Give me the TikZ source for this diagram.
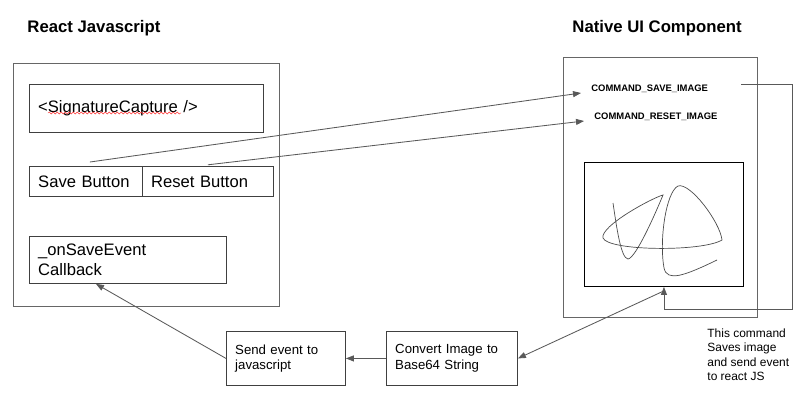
\documentclass[tikz,border=0pt]{standalone}
\usepackage{fontspec}
\setmainfont{Liberation Sans}
\usetikzlibrary{arrows.meta,positioning,calc,decorations.pathmorphing}

\begin{document}
\begin{tikzpicture}[x=0.025cm, y=-0.025cm, line width=0.6pt,
  arr/.style={draw=black!65, -{Triangle[length=2mm,width=1.5mm]}},
  frame/.style={draw=black!60, rectangle, anchor=north west, inner sep=0pt},
  box/.style={draw=black!75, rectangle, anchor=north west, inner xsep=2.2mm, inner ysep=0pt,
    align=left, font=\fontsize{11.8}{14}\selectfont},
  smallbox/.style={box, font=\fontsize{9.4}{11}\selectfont},
  title/.style={anchor=west, inner sep=0pt, font=\fontsize{11.9}{14}\selectfont\bfseries},
  cmd/.style={anchor=west, inner sep=2.5mm, font=\fontsize{6.7}{8}\selectfont\bfseries}]
  \useasboundingbox (0,0) rectangle (800,402);
  % titles
  \node[title] (tjs) at (27,28) {React Javascript};
  \node[title] (tnat) at (572,28) {Native UI Component};
  % react side
  \node[frame, minimum width=66.5mm, minimum height=60.75mm] (rj) at (13,63) {};
  \node[box, text width=54.1mm, minimum height=12mm] (sig) at (29,84) {<SignatureCapture />};
  \draw[red!80, line width=0.3pt, decoration={snake, amplitude=0.25mm, segment length=1mm}, decorate]
    (48,113) -- (181,113);
  \node[box, text width=23.85mm, minimum height=7.5mm] (save) at (29,166) {Save Button};
  \node[box, text width=28.35mm, minimum height=7.5mm] (reset) at (142,166) {Reset Button};
  \node[box, text width=44.85mm, minimum height=11.75mm] (cb) at (29,236) {\_onSaveEvent\\Callback};
  % native side
  \node[frame, minimum width=48.5mm, minimum height=65mm] (nui) at (563,57) {};
  \node[cmd] (cmdsave) at (581,89) {COMMAND\_SAVE\_IMAGE};
  \node[cmd] (cmdreset) at (584,117) {COMMAND\_RESET\_IMAGE};
  \node[frame, draw=black, minimum width=39.75mm, minimum height=31mm] (canvas) at (584,162) {};
  % the signature scribble
  \draw[black!70, line width=0.5pt]
    (613,203) .. controls (617,230) and (621,258) .. (628,259)   % down stroke
    .. controls (636,258) and (656,212) .. (663,195)             % up to left loop
    .. controls (652,198) and (600,226) .. (603,238)             % round the left tip
    .. controls (608,251) and (702,252) .. (722,240)             % long bottom stroke
    .. controls (720,222) and (690,182) .. (678,186)             % up to the peak
    .. controls (666,192) and (659,240) .. (664,268)             % down again
    .. controls (667,282) and (684,276) .. (717,260);            % tail
  % bottom pipeline
  \node[smallbox, text width=25.35mm, minimum height=13.5mm] (send) at (226,331) {Send event to\\javascript};
  \node[smallbox, text width=28.35mm, minimum height=13.5mm] (conv) at (386,331) {Convert Image to\\Base64 String};
  \node[anchor=north west, inner sep=0pt, align=left, font=\fontsize{8.5}{10.3}\selectfont] (note) at (707,328)
    {This command\\Saves image\\and send event\\to react JS};
  % connectors
  \coordinate (loopstart) at (741,84);
  \coordinate (loopcorner) at (792,309);
  \draw[arr] ([xshift=1mm,yshift=1mm]save.north) -- ([yshift=-1mm]cmdsave.west);
  \draw[arr] ([yshift=0.3mm]reset.north) -- ([yshift=-1mm]cmdreset.west);
  \draw[arr] (loopstart) -| (loopcorner) -| (canvas.south);
  \draw[arr] ([yshift=-1mm]canvas.south) -- (conv.east);
  \draw[arr] (conv.west) -- (send.east);
  \draw[arr] (send.west) -- ([xshift=-8mm]cb.south);
\end{tikzpicture}
\end{document}
